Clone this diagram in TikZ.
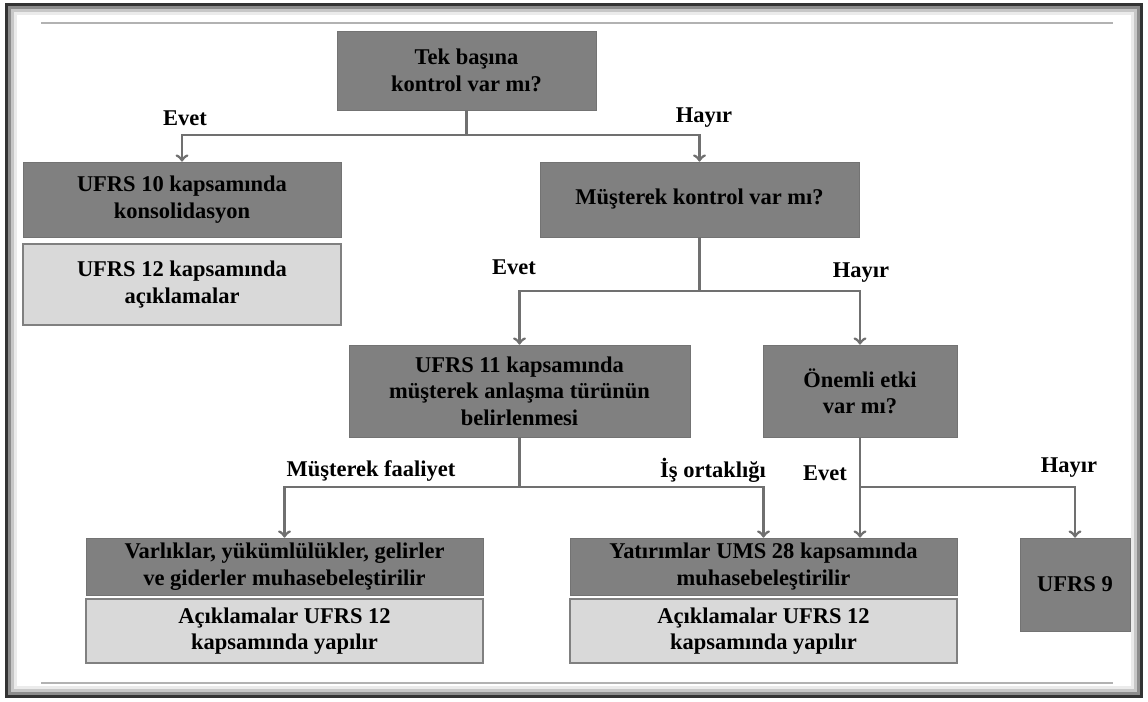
\documentclass[tikz,border=0pt]{standalone}
\usepackage{fontspec}
\setmainfont{Liberation Serif}
\usepackage{tikz}
\usetikzlibrary{calc}

\definecolor{darkbox}{RGB}{128,128,128}
\definecolor{lightbox}{RGB}{217,217,217}
\definecolor{linegray}{RGB}{112,112,112}

\tikzset{
  dbox/.style={fill=darkbox, draw=darkbox!90!black, line width=0.4pt, align=center,
    font=\fontsize{12.8}{15}\selectfont\bfseries, inner sep=0pt},
  lbox/.style={fill=lightbox, draw=darkbox, line width=1.2pt, align=center,
    font=\fontsize{12.8}{15}\selectfont\bfseries, inner sep=0pt},
  lbl/.style={font=\fontsize{12.8}{15}\selectfont\bfseries},
  conn/.style={draw=linegray, line width=1.6pt}
}

\begin{document}
\begin{tikzpicture}

\useasboundingbox (0,0) rectangle (22.96,-14.02);

% frame with soft shadow
\draw[black!80, line width=2pt] (0.13,-0.09) rectangle (22.83,-13.93);
\draw[black!45, line width=1.4pt] (0.19,-0.15) rectangle (22.77,-13.87);
\draw[black!22, line width=1.7pt] (0.245,-0.205) rectangle (22.715,-13.815);
\draw[black!8, line width=2pt] (0.31,-0.27) rectangle (22.65,-13.75);

\draw[black!30, line width=1.2pt] (0.82,-0.46) -- (22.26,-0.46);
\draw[black!30, line width=1.2pt] (0.82,-13.66) -- (22.26,-13.66);

\node[dbox, minimum width=5.18cm, minimum height=1.58cm] (top) at (9.33,-1.41) {Tek başına\\kontrol var mı?};

\node[dbox, minimum width=6.36cm, minimum height=1.5cm] (ufrs10) at (3.64,-3.99) {UFRS 10 kapsamında\\konsolidasyon};
\node[lbox, minimum width=6.36cm, minimum height=1.62cm] (ufrs12) at (3.64,-5.69) {UFRS 12 kapsamında\\açıklamalar};

\node[dbox, minimum width=6.38cm, minimum height=1.5cm] (mk) at (13.99,-3.99) {Müşterek kontrol var mı?};

\node[dbox, minimum width=6.82cm, minimum height=1.84cm] (ufrs11) at (10.39,-7.82) {UFRS 11 kapsamında\\müşterek anlaşma türünün\\belirlenmesi};
\node[dbox, minimum width=3.88cm, minimum height=1.84cm] (etki) at (17.2,-7.82) {Önemli etki\\var mı?};

\node[dbox, minimum width=7.94cm, minimum height=1.14cm] (varlik) at (5.69,-11.33) {Varlıklar, yükümlülükler, gelirler\\ve giderler muhasebeleştirilir};
\node[lbox, minimum width=7.94cm, minimum height=1.28cm] (acik1) at (5.69,-12.62) {Açıklamalar UFRS 12\\kapsamında yapılır};

\node[dbox, minimum width=7.74cm, minimum height=1.14cm] (yatirim) at (15.27,-11.33) {Yatırımlar UMS 28 kapsamında\\muhasebeleştirilir};
\node[lbox, minimum width=7.74cm, minimum height=1.28cm] (acik2) at (15.27,-12.62) {Açıklamalar UFRS 12\\kapsamında yapılır};

\node[dbox, minimum width=2.2cm, minimum height=1.86cm] (ufrs9) at (21.5,-11.69) {UFRS 9};

\coordinate (j1) at (9.33,-2.7);
\coordinate (j2) at (13.99,-5.82);
\coordinate (j3) at (10.39,-9.74);
\coordinate (j4) at (17.2,-9.74);

\node[lbl] (e1) at (3.7,-2.36) {Evet};
\node[lbl] (h1) at (14.08,-2.36) {Hayır};
\node[lbl] (e2) at (10.28,-5.34) {Evet};
\node[lbl] (h2) at (17.22,-5.46) {Hayır};
\node[lbl] (mf) at (7.42,-9.42) {Müşterek faaliyet};
\node[lbl] (io) at (14.26,-9.4) {İş ortaklığı};
\node[lbl] (e3) at (16.5,-9.46) {Evet};
\node[lbl] (h3) at (21.38,-9.36) {Hayır};

\draw[conn] (top) -- (j1);
\draw[conn][->] (j1) -| (ufrs10);
\draw[conn][->] (j1) -| (mk);
\draw[conn] (mk) -- (j2);
\draw[conn][->] (j2) -| (ufrs11);
\draw[conn][->] (j2) -| (etki);
\draw[conn] (ufrs11) -- (j3);
\draw[conn][->] (j3) -| (varlik);
\draw[conn][->] (j3) -| (yatirim);
\draw[conn] (etki) -- (j4);
\draw[conn][->] (j4) -- (j4 |- yatirim.north);
\draw[conn][->] (j4) -| (ufrs9);

\end{tikzpicture}
\end{document}
